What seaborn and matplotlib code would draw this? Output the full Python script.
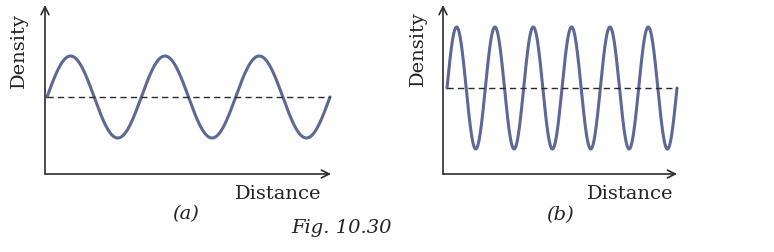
import numpy as np
import pandas as pd
import matplotlib
matplotlib.use("Agg")
import matplotlib.pyplot as plt
import seaborn as sns

# ---- data (conceptual density waves) ----
panels = ["(a)", "(b)"]
cycles = [3, 6]            # number of full wavelengths shown
amplitudes = [1.0, 1.0]    # relative amplitude
x_label = "Distance"
y_label = "Density"
caption = "Fig. 10.30"

sns.set_theme(style="white")
plt.rcParams["font.family"] = ["DejaVu Serif"]

W, H = 774, 252
fig = plt.figure(figsize=(W / 100, H / 100), dpi=100)
fig.patch.set_facecolor("white")

wave_color = "#5d6897"
axis_color = "#2b2b2b"

# pixel geometry of each panel
geom = [
    dict(left=45, right=331, bottom=174, top=5, x0=47, x1=330, base=97, amp=41),
    dict(left=443, right=677, bottom=174, top=5, x0=447, x1=677, base=88, amp=61),
]
label_pos = [
    dict(dist=(278, 194), dens=(19, 51), tag=(186, 214)),
    dict(dist=(630, 194), dens=(418, 49), tag=(560, 215)),
]

for i, g in enumerate(geom):
    ax = fig.add_axes([g["left"] / W, 1 - g["bottom"] / H,
                       (g["right"] - g["left"]) / W, (g["bottom"] - g["top"]) / H])
    n = cycles[i]
    A = amplitudes[i]
    x = np.linspace(0, n, 1200)
    df = pd.DataFrame({"distance": x, "density": A * np.sin(2 * np.pi * x)})
    sns.lineplot(data=df, x="distance", y="density", ax=ax, color=wave_color,
                 linewidth=2.2, estimator=None, sort=False)
    for ln in ax.lines:
        ln.set_clip_on(False)
        ln.set_solid_capstyle("round")
    ax.plot([0, n], [0, 0], linestyle=(0, (4.5, 3)), color=axis_color,
            linewidth=1.0, clip_on=False)
    xpp = n / (g["x1"] - g["x0"])
    ax.set_xlim((g["left"] - g["x0"]) * xpp, (g["right"] - g["x0"]) * xpp)
    ypp = A / g["amp"]
    ax.set_ylim(-(g["bottom"] - g["base"]) * ypp, (g["base"] - g["top"]) * ypp)
    for s in ax.spines.values():
        s.set_visible(False)
    ax.set_xticks([]); ax.set_yticks([])
    ax.set_xlabel(""); ax.set_ylabel("")
    ax.patch.set_alpha(0)
    arrow = dict(arrowstyle="->", color=axis_color, lw=1.2, mutation_scale=14,
                 shrinkA=0, shrinkB=0)
    ax.annotate("", xy=(1, 0), xytext=(0, 0), xycoords="axes fraction",
                arrowprops=arrow, annotation_clip=False)
    ax.annotate("", xy=(0, 1), xytext=(0, 0), xycoords="axes fraction",
                arrowprops=arrow, annotation_clip=False)

    lp = label_pos[i]
    fig.text(lp["dist"][0] / W, 1 - lp["dist"][1] / H, x_label, ha="center",
             va="center", fontsize=14, color="#222222")
    fig.text(lp["dens"][0] / W, 1 - lp["dens"][1] / H, y_label, ha="center",
             va="center", fontsize=14, rotation=90, color="#222222")
    fig.text(lp["tag"][0] / W, 1 - lp["tag"][1] / H, panels[i], ha="center",
             va="center", fontsize=14, style="italic", color="#222222")

fig.text(342 / W, 1 - 228 / H, caption, ha="center", va="center",
         fontsize=14, style="italic", color="#222222")

fig.savefig("out.png", dpi=100, facecolor="white")
